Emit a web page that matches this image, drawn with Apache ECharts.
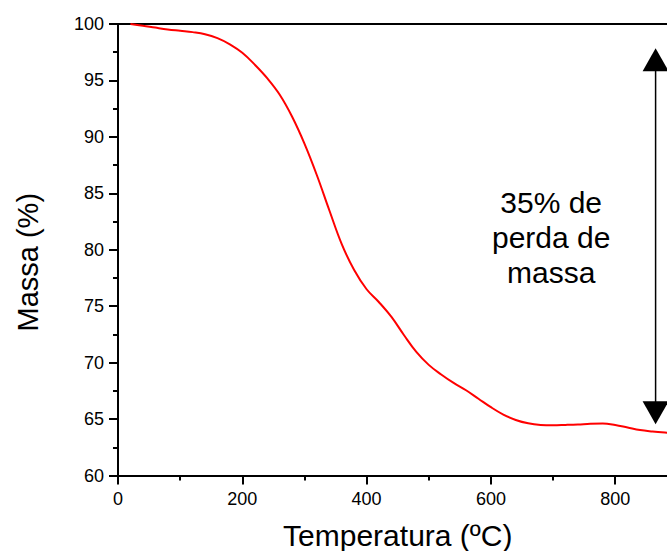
<!DOCTYPE html>
<html>
<head>
<meta charset="utf-8">
<title>Massa vs Temperatura</title>
<script src="https://cdn.jsdelivr.net/npm/echarts@6/dist/echarts.min.js"></script>
<style>
  html, body { margin: 0; padding: 0; background: #fff; }
  #chart { width: 667px; height: 551px; }
</style>
</head>
<body>
<div id="chart"></div>
<script>
// Thermogravimetric curve: temperature (ºC) and remaining mass (%)
const temperature = [20, 40, 60, 80, 100, 120, 140, 160, 180, 200, 220, 240, 260, 280, 300,
  320, 340, 360, 380, 400, 420, 440, 460, 480, 500, 520, 540, 560, 580, 600,
  620, 640, 660, 680, 700, 720, 740, 760, 780, 800, 820, 840, 860, 880, 900];
const mass = [100.0, 99.85, 99.68, 99.52, 99.4, 99.28, 99.1, 98.75, 98.2, 97.45, 96.4, 95.2, 93.75, 91.8, 89.4,
  86.6, 83.5, 80.5, 78.2, 76.5, 75.35, 74.05, 72.45, 70.95, 69.8, 68.95, 68.2, 67.55, 66.8, 66.05,
  65.4, 64.92, 64.62, 64.48, 64.45, 64.48, 64.52, 64.58, 64.6, 64.47, 64.25, 64.03, 63.9, 63.8, 63.72];

// Axis ranges and ticks
const xTicks = [0, 200, 400, 600, 800];
const yTicks = [60, 65, 70, 75, 80, 85, 90, 95, 100];

// Mass-loss annotation: double arrow and its caption
const arrowTemp = 865;
const arrowShaft = [95.9, 65.8];
const arrowHeadUp = 96.84;
const arrowHeadDown = 65.55;
const captionPos = [697, 81.05];
const captionText = '35% de\nperda de\nmassa';

const FONT = '"Liberation Sans", Arial, sans-serif';

const curve = temperature.map((t, i) => [t, mass[i]]);

const chart = echarts.init(document.getElementById('chart'), null, { renderer: 'svg' });

const axisLine = { show: true, lineStyle: { color: '#000', width: 2 } };

chart.setOption({
  animation: false,
  backgroundColor: '#fff',
  // plot runs past the right edge of the page
  grid: { left: 118, top: 24, height: 451.5, width: 621.5, containLabel: false, outerBoundsMode: 'none' },
  xAxis: [{
    type: 'value',
    min: 0, max: 1000, interval: 200,
    position: 'bottom',
    name: 'Temperatura (ºC)',
    nameLocation: 'middle',
    nameGap: 45,
    nameTextStyle: { fontFamily: FONT, fontSize: 30, color: '#000', padding: [0, 62, 0, 0] },
    axisLine: axisLine,
    axisTick: { show: true, inside: false, length: 9, lineStyle: { color: '#000', width: 2 } },
    minorTick: { show: true, splitNumber: 2, length: 5, lineStyle: { color: '#000', width: 2 } },
    axisLabel: {
      fontFamily: FONT, fontSize: 18, color: '#000', margin: 14,
      formatter: v => (xTicks.indexOf(v) >= 0 ? String(v) : '')
    },
    splitLine: { show: false }
  }, {
    type: 'value',
    min: 0, max: 1000,
    position: 'top',
    axisLine: axisLine,
    axisTick: { show: false },
    axisLabel: { show: false },
    splitLine: { show: false }
  }],
  yAxis: {
    type: 'value',
    min: yTicks[0], max: yTicks[yTicks.length - 1], interval: 5,
    name: 'Massa (%)',
    nameLocation: 'middle',
    nameGap: 76,
    nameTextStyle: { fontFamily: FONT, fontSize: 29, color: '#000', padding: [0, 25, 0, 0] },
    axisLine: axisLine,
    axisTick: { show: true, inside: false, length: 9, lineStyle: { color: '#000', width: 2 } },
    minorTick: { show: true, splitNumber: 2, length: 5, lineStyle: { color: '#000', width: 2 } },
    axisLabel: { fontFamily: FONT, fontSize: 18, color: '#000', margin: 14 },
    splitLine: { show: false }
  },
  series: [{
    name: 'Massa',
    type: 'line',
    data: curve,
    smooth: 0.4,
    symbol: 'none',
    lineStyle: { color: '#ff0000', width: 2 },
    z: 3
  }, {
    name: 'shaft',
    type: 'line',
    data: [[arrowTemp, arrowShaft[0]], [arrowTemp, arrowShaft[1]]],
    symbol: 'none',
    lineStyle: { color: '#000', width: 1.5 },
    silent: true
  }, {
    name: 'heads',
    type: 'scatter',
    data: [
      { value: [arrowTemp, arrowHeadUp], symbolRotate: 0 },
      { value: [arrowTemp, arrowHeadDown], symbolRotate: 180 }
    ],
    symbol: 'triangle',
    symbolSize: [26, 23],
    itemStyle: { color: '#000', opacity: 1 },
    silent: true
  }, {
    name: 'caption',
    type: 'scatter',
    data: [captionPos],
    symbolSize: 0,
    itemStyle: { opacity: 1 },
    label: {
      show: true,
      position: 'inside',
      formatter: captionText,
      fontFamily: FONT, fontSize: 30, lineHeight: 35, color: '#000', opacity: 1,
      align: 'center', verticalAlign: 'middle'
    },
    silent: true
  }]
});
</script>
</body>
</html>
